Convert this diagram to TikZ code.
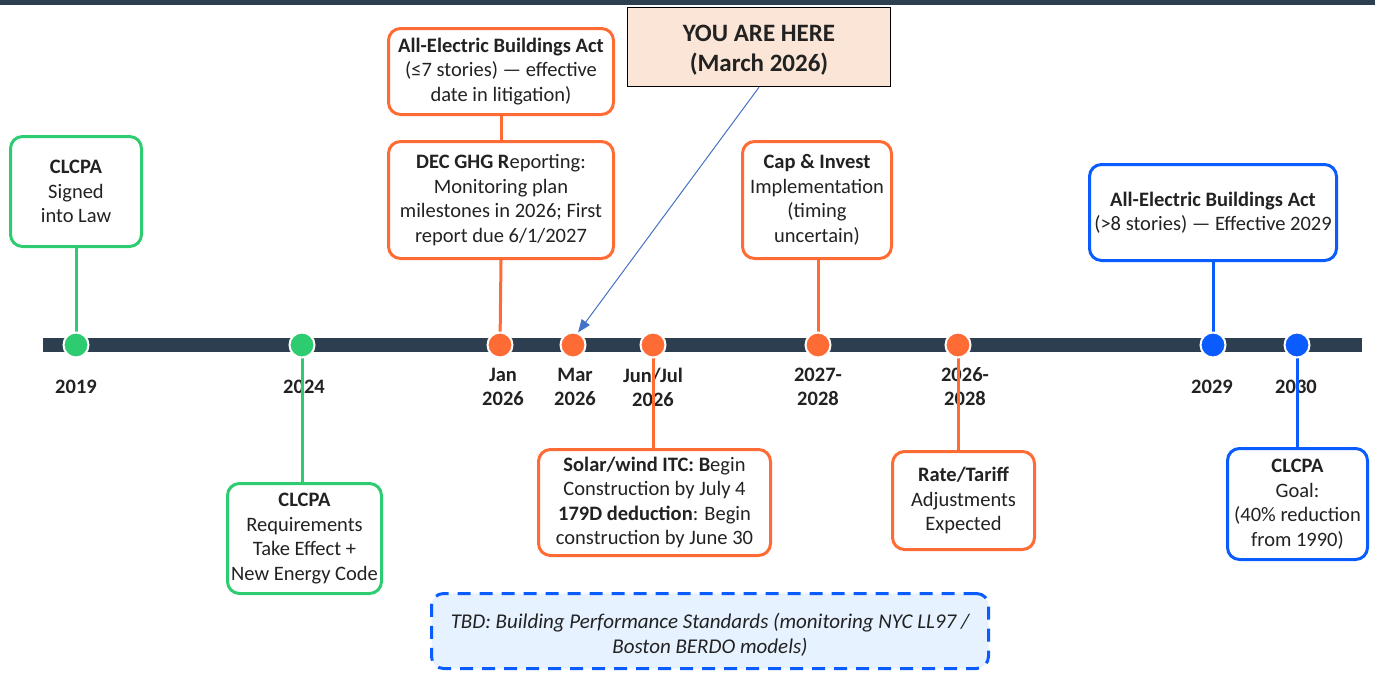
\documentclass[tikz,border=0pt]{standalone}
\usepackage{fontspec}
\setmainfont{Carlito}
\usetikzlibrary{arrows.meta}
\definecolor{navy}{HTML}{2C3E50}
\definecolor{cgreen}{HTML}{2ECC71}
\definecolor{corange}{HTML}{FF6B35}
\definecolor{cblue}{HTML}{0A5CFF}
\definecolor{peach}{HTML}{FBE5D6}
\definecolor{lightblue}{HTML}{E6F2FF}
\definecolor{arrowblue}{HTML}{4472C4}
\definecolor{txt}{HTML}{222222}
\begin{document}
\begin{tikzpicture}[x=1pt,y=-1pt,
  font=\fontsize{20.5}{24.5}\selectfont,
  evbox/.style={draw=#1, line width=3pt, rounded corners=12pt, fill=white, align=center, inner sep=0pt, text=txt},
  conn/.style={draw=#1, line width=3pt},
  tdot/.style={circle, fill=#1, draw=white, line width=2pt, minimum size=25pt, inner sep=0pt},
  yrlabel/.style={font=\fontsize{20.5}{24}\selectfont\bfseries, align=center, text=txt}]
\useasboundingbox (0,0) rectangle (1375,673);
\fill[navy] (0,0) rectangle (1375,5);
% timeline
\coordinate (tl0) at (43,345);
\coordinate (tl1) at (1362,345);
\draw[navy, line width=14pt] (tl0) -- (tl1);

% boxes
\node[evbox=cgreen, minimum width=131pt, minimum height=110pt] (b1) at (76,191.5) {\textbf{CLCPA}\\Signed\\into Law};
\node[evbox=cgreen, minimum width=154pt, minimum height=110pt] (b2) at (304.5,538.5) {\textbf{CLCPA}\\Requirements\\Take Effect +\\New Energy Code};
\node[evbox=corange, minimum width=225pt, minimum height=86pt] (b3) at (501,71.5) {\textbf{All-Electric Buildings Act}\\(≤7 stories) — effective\\date in litigation)};
\node[evbox=corange, minimum width=225pt, minimum height=117pt] (b4) at (501,200) {\textbf{DEC GHG R}eporting:\\Monitoring plan\\milestones in 2026; First\\report due 6/1/2027};
\node[draw=black, line width=1.5pt, fill=peach, minimum width=263pt, minimum height=79pt] (you) at (759,47) {};
\node[align=center, text=txt, font=\fontsize{25}{30}\selectfont\bfseries] (youtext) at ([yshift=-3pt]you.center) {YOU ARE HERE\\(March 2026)};
\node[evbox=corange, minimum width=149pt, minimum height=117pt] (b5) at (817,200) {\textbf{Cap \& Invest}\\Implementation\\(timing\\uncertain)};
\node[evbox=corange, minimum width=232pt, minimum height=106pt] (b6) at (654.5,502.5) {\textbf{Solar/wind ITC: B}egin\\Construction by July 4\\\textbf{179D deduction}: Begin\\construction by June 30};
\node[evbox=corange, minimum width=142pt, minimum height=98pt] (b7) at (963.5,500.5) {\textbf{Rate/Tariff}\\Adjustments\\Expected};
\node[evbox=cblue, minimum width=247pt, minimum height=96pt] (b8) at (1213,212.5) {\textbf{All-Electric Buildings Act}\\(>8 stories) — Effective 2029};
\node[evbox=cblue, minimum width=140pt, minimum height=111pt] (b9) at (1297.5,504) {\textbf{CLCPA}\\Goal:\\(40\% reduction\\from 1990)};
\node[draw=cblue, line width=3pt, dash pattern=on 13pt off 9pt, rounded corners=12pt, fill=lightblue,
  minimum width=557pt, minimum height=75pt] (tbd) at (710,631) {};
\node[align=center, text=txt, font=\fontsize{21}{25}\selectfont\itshape] (tbdtext) at ([yshift=-4pt]tbd.center)
  {TBD: Building Performance Standards (monitoring NYC LL97 /\\Boston BERDO models)};

% year labels
\node[yrlabel] (l1) at (76,387) {2019};
\node[yrlabel] (l2) at (304,387) {2024};
\node[yrlabel] (l3) at (503,387) {Jan\\2026};
\node[yrlabel] (l4) at (575,387) {Mar\\2026};
\node[yrlabel] (l5) at (653,387) {Jun/Jul\\2026};
\node[yrlabel] (l6) at (818,387) {2027-\\2028};
\node[yrlabel] (l7) at (965,387) {2026-\\2028};
\node[yrlabel] (l8) at (1212,387) {2029};
\node[yrlabel] (l9) at (1296,387) {2030};

% dot coordinates
\coordinate (p1) at (76,345);
\coordinate (p2) at (302,345);
\coordinate (p3) at (500,345);
\coordinate (p4) at (573,345);
\coordinate (p5) at (653,345);
\coordinate (p6) at (818,345);
\coordinate (p7) at (958,345);
\coordinate (p8) at (1213,345);
\coordinate (p9) at (1297,345);

% connectors
\draw[conn=cgreen] (b1.south) -- (p1);
\draw[conn=cgreen] (p2) -- (p2 |- b2.north);
\draw[conn=corange] (b3.south) -- (b4.north);
\draw[conn=corange] (b4.south) -- (p3);
\draw[conn=corange] (b5.south -| p6) -- (p6);
\draw[conn=corange] (p5) -- (p5 |- b6.north);
\draw[conn=corange] (p7) -- (p7 |- b7.north);
\draw[conn=cblue] (b8.south) -- (p8);
\draw[conn=cblue] (p9) -- (p9 |- b9.north);

% dots
\node[tdot=cgreen] (d1) at (p1) {};
\node[tdot=cgreen] (d2) at (p2) {};
\node[tdot=corange] (d3) at (p3) {};
\node[tdot=corange] (d4) at (p4) {};
\node[tdot=corange] (d5) at (p5) {};
\node[tdot=corange] (d6) at (p6) {};
\node[tdot=corange] (d7) at (p7) {};
\node[tdot=cblue] (d8) at (p8) {};
\node[tdot=cblue] (d9) at (p9) {};

% you are here arrow
\draw[arrowblue, line width=1pt, -{Triangle[length=13pt,width=10pt]}] (you.south) -- (d4.68);
\end{tikzpicture}
\end{document}
